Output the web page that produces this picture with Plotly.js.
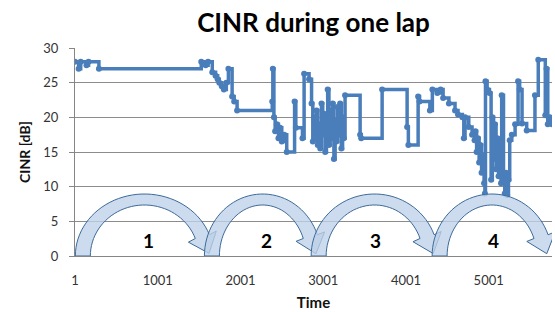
<!DOCTYPE html>
<html>
<head>
<meta charset="utf-8">
<script src="https://cdn.plot.ly/plotly-3.0.1.min.js"></script>
<style>html,body{margin:0;padding:0;background:#fff;}#chart{width:555px;height:312px;}</style>
</head>
<body>
<div id="chart"></div>
<script>
// ---- data ----
const timeIdx = [1,45,70,140,165,290,1527,1580,1610,1660,1700,1725,1745,1775,1800,1830,1855,1900,1925,1960,
  2385,2392,2405,2420,2440,2460,2480,2500,2530,2560,2655,2670,2750,2770,2830,2860,2875,2890,2905,2920,2935,2950,
  2965,2980,2995,3010,3025,3040,3055,3070,3085,3100,3115,3130,3145,3160,3175,3190,3205,3220,3235,3250,3265,
  3447,3460,3713,4015,4030,4148,4165,4290,4320,4380,4420,4450,4520,4594,4630,4683,4700,4715,4760,4800,4830,
  4840,4855,4870,4885,4900,4915,4930,4945,4955,4962,4982,5010,5030,5045,5060,5075,5090,5105,5120,5135,5150,
  5158,5180,5195,5210,5225,5240,5255,5280,5320,5356,5375,5404,5460,5560,5600,5685,5700,5715,5740,5766];
const cinr = [28,27,28,27.5,28,27,28,27.5,28,26.5,26,25.5,25,24.5,24,25,27,23,22.3,21,
  22.3,27,20,18,19,17,18.5,16.5,17.5,15,22.3,18.5,17,26.3,25.5,22,16.5,20,17,21,16,19,
  15.5,22,17.5,20.5,15,18,24,16,21,17,22,14,19.5,16.5,21.5,17.5,22,15.5,20,17,23.2,
  17.5,17,24,18.6,16,23,22.3,21,24,23.5,24,22.8,22,21,20.4,20,17,20,18.6,17.5,16.7,
  18,15,17,13.5,16,12,14.5,10.5,9,25.2,24,23.5,11,20,14,19,12.5,17,11.5,15,10.5,
  23.2,11,9,12,8.8,11,16.7,17.5,19,25.2,24,19.1,18.1,23.2,28.3,20.3,27,19,20,19];
const tickVals = [1,1001,2001,3001,4001,5001];
const tickText = ["1","1001","2001","3001","4001","5001"];
const lapLabels = ["1","2","3","4"];
const lapLabelIdx = [886,2312,3629,5054];
const arrowFootIdx = [5,1565,2855,4317];
const arrowTipIdx = [1613,2918,4329,5706];

// ---- geometry ----
const W0 = 555, H0 = 312;
const M = {l:75, r:3, t:48, b:56};
const X0 = 1, X1 = 5766, Y0 = 0, Y1 = 30;
const PW = W0 - M.l - M.r, PH = H0 - M.t - M.b;
const kx = (X1 - X0) / PW, ky = (Y1 - Y0) / PH;
const toPx = idx => M.l + (idx - X0) / kx;
const toData = (px, up) => [X0 + (px - M.l) * kx, up * ky];

function arrowPath(footIdx, tipIdx){
  const xL = toPx(footIdx), xT = toPx(tipIdx);
  const ay = 62, bw = 15, bh = 11, hw = 15, hl = 18, te = 0.35;
  const ax = (xT - xL + 1) / 1.939;
  const cx = xL + ax;
  const N = 40;
  const pts = [];
  for (let i = 0; i <= N; i++){
    const th = Math.PI - (Math.PI - te) * i / N;
    pts.push([cx + ax*Math.cos(th), ay*Math.sin(th)]);
  }
  const am = ax - bw/2, bm = ay - bh/2;
  const P = [cx + am*Math.cos(te), bm*Math.sin(te)];
  let d = [am*Math.sin(te), -bm*Math.cos(te)];
  let dn = Math.hypot(d[0], d[1]); d = [d[0]/dn, d[1]/dn];
  let n = [bm*Math.cos(te), am*Math.sin(te)];
  let nn = Math.hypot(n[0], n[1]); n = [n[0]/nn, n[1]/nn];
  pts.push([P[0] + n[0]*hw, P[1] + n[1]*hw]);
  pts.push([P[0] + d[0]*hl, P[1] + d[1]*hl]);
  pts.push([P[0] - n[0]*hw, P[1] - n[1]*hw]);
  for (let i = N; i >= 0; i--){
    const th = Math.PI - (Math.PI - te) * i / N;
    pts.push([cx + (ax-bw)*Math.cos(th), (ay-bh)*Math.sin(th)]);
  }
  return pts.map((p, i) => {
    const q = toData(p[0], p[1]);
    return (i === 0 ? 'M' : 'L') + q[0].toFixed(2) + ',' + q[1].toFixed(3);
  }).join(' ') + ' Z';
}

const shapes = arrowFootIdx.map((f, i) => ({
  type: 'path', xref: 'x', yref: 'y', layer: 'above',
  path: arrowPath(f, arrowTipIdx[i]),
  fillcolor: 'rgba(190,209,232,0.78)',
  line: {color: '#3d6a99', width: 1}
}));

const annotations = lapLabels.map((t, i) => ({
  x: lapLabelIdx[i], y: 2.3, xref: 'x', yref: 'y', text: '<b>' + t + '</b>',
  showarrow: false, font: {family: 'Lato', size: 19, color: '#000'}
}));

const FONT = 'Lato, "Open Sans", sans-serif';
const trace = {
  x: timeIdx, y: cinr, type: 'scatter', mode: 'lines+markers',
  line: {shape: 'hv', color: '#4a7ebb', width: 3.5},
  marker: {size: 6, color: '#4a7ebb'},
  hoverinfo: 'skip'
};

const layout = {
  width: W0, height: H0, margin: M,
  paper_bgcolor: '#fff', plot_bgcolor: '#fff',
  showlegend: false,
  font: {family: FONT, color: '#222'},
  title: {text: '<b>CINR during one lap</b>', font: {family: FONT, size: 26, color: '#000'},
          x: 0.5, xref: 'paper', xanchor: 'center', y: 1 - 23/H0, yref: 'container', yanchor: 'middle'},
  xaxis: {range: [X0, X1], tickmode: 'array', tickvals: tickVals, ticktext: tickText,
          showgrid: false, zeroline: false, showline: true, linecolor: '#868686', linewidth: 1,
          ticks: '', tickfont: {family: FONT, size: 13, color: '#333'}, ticklabelstandoff: 12,
          title: {text: '<b>Time</b>', font: {family: FONT, size: 15, color: '#111'}, standoff: 10}},
  yaxis: {range: [Y0, Y1], dtick: 5, tick0: 0, showgrid: true, gridcolor: '#8c8c8c', gridwidth: 1,
          zeroline: false, showline: true, linecolor: '#868686', linewidth: 1,
          ticks: 'outside', ticklen: 5, tickcolor: '#868686',
          tickfont: {family: FONT, size: 13, color: '#333'}, ticklabelstandoff: 8,
          title: {text: '<b>CINR [dB]</b>', font: {family: FONT, size: 14, color: '#111'}, standoff: 9}},
  shapes: shapes,
  annotations: annotations
};

Plotly.newPlot('chart', [trace], layout, {staticPlot: true, displayModeBar: false});
</script>
</body>
</html>
